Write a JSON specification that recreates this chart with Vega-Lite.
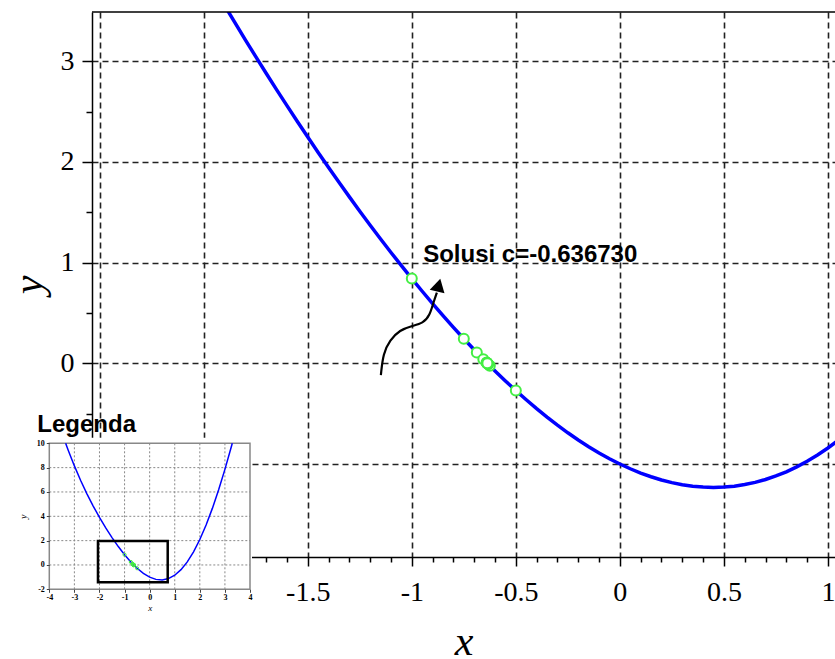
{
  "$schema": "https://vega.github.io/schema/vega-lite/v6.json",
  "autosize": {"type": "none"},
  "width": 743,
  "height": 545,
  "padding": {"left": 92, "top": 12, "right": 0, "bottom": 102},
  "background": "white",
  "config": {"view": {"stroke": null}},
  "datasets": {
    "one": [{}],
    "curve": [
      {"x": -1.9, "y": 3.5563}, {"x": -1.85, "y": 3.3838}, {"x": -1.8, "y": 3.2139}, {"x": -1.75, "y": 3.0465},
      {"x": -1.7, "y": 2.8817}, {"x": -1.65, "y": 2.7194}, {"x": -1.6, "y": 2.5596}, {"x": -1.55, "y": 2.4023},
      {"x": -1.5, "y": 2.2475}, {"x": -1.45, "y": 2.0952}, {"x": -1.4, "y": 1.9455}, {"x": -1.35, "y": 1.7982},
      {"x": -1.3, "y": 1.6536}, {"x": -1.25, "y": 1.5115}, {"x": -1.2, "y": 1.372}, {"x": -1.15, "y": 1.2353},
      {"x": -1.1, "y": 1.1012}, {"x": -1.05, "y": 0.9699}, {"x": -1.0, "y": 0.8415}, {"x": -0.95, "y": 0.7159},
      {"x": -0.9, "y": 0.5933}, {"x": -0.85, "y": 0.4738}, {"x": -0.8, "y": 0.3574}, {"x": -0.75, "y": 0.2441},
      {"x": -0.7, "y": 0.1342}, {"x": -0.65, "y": 0.0277}, {"x": -0.6, "y": -0.0754}, {"x": -0.55, "y": -0.1748},
      {"x": -0.5, "y": -0.2706}, {"x": -0.45, "y": -0.3625}, {"x": -0.4, "y": -0.4506}, {"x": -0.35, "y": -0.5346},
      {"x": -0.3, "y": -0.6145}, {"x": -0.25, "y": -0.6901}, {"x": -0.2, "y": -0.7613}, {"x": -0.15, "y": -0.8281},
      {"x": -0.1, "y": -0.8902}, {"x": -0.05, "y": -0.9475}, {"x": 0.0, "y": -1.0}, {"x": 0.05, "y": -1.0475},
      {"x": 0.1, "y": -1.0898}, {"x": 0.15, "y": -1.1269}, {"x": 0.2, "y": -1.1587}, {"x": 0.25, "y": -1.1849},
      {"x": 0.3, "y": -1.2055}, {"x": 0.35, "y": -1.2204}, {"x": 0.4, "y": -1.2294}, {"x": 0.45, "y": -1.2325},
      {"x": 0.5, "y": -1.2294}, {"x": 0.55, "y": -1.2202}, {"x": 0.6, "y": -1.2046}, {"x": 0.65, "y": -1.1827},
      {"x": 0.7, "y": -1.1542}, {"x": 0.75, "y": -1.1191}, {"x": 0.8, "y": -1.0774}, {"x": 0.85, "y": -1.0288},
      {"x": 0.9, "y": -0.9733}, {"x": 0.95, "y": -0.9109}, {"x": 1.0, "y": -0.8415}, {"x": 1.05, "y": -0.7649}
    ],
    "insetCurve": [
      {"x": -3.349, "y": 10.0}, {"x": -3.25, "y": 9.4543}, {"x": -3.0, "y": 8.1411}, {"x": -2.75, "y": 6.9442},
      {"x": -2.5, "y": 5.8485}, {"x": -2.25, "y": 4.8406}, {"x": -2.0, "y": 3.9093}, {"x": -1.75, "y": 3.0465},
      {"x": -1.5, "y": 2.2475}, {"x": -1.25, "y": 1.5115}, {"x": -1.0, "y": 0.8415}, {"x": -0.75, "y": 0.2441},
      {"x": -0.5, "y": -0.2706}, {"x": -0.25, "y": -0.6901}, {"x": 0.0, "y": -1.0}, {"x": 0.25, "y": -1.1849},
      {"x": 0.5, "y": -1.2294}, {"x": 0.75, "y": -1.1191}, {"x": 1.0, "y": -0.8415}, {"x": 1.25, "y": -0.3865},
      {"x": 1.5, "y": 0.2525}, {"x": 1.75, "y": 1.0785}, {"x": 2.0, "y": 2.0907}, {"x": 2.25, "y": 3.2844},
      {"x": 2.5, "y": 4.6515}, {"x": 2.75, "y": 6.1808}, {"x": 3.0, "y": 7.8589}, {"x": 3.25, "y": 9.6707},
      {"x": 3.294, "y": 10.0}
    ],
    "iter": [
      {"x": -1.0, "y": 0.8415}, {"x": -0.5, "y": -0.2706}, {"x": -0.75, "y": 0.2441}, {"x": -0.625, "y": -0.0243},
      {"x": -0.6875, "y": 0.1074}, {"x": -0.65625, "y": 0.0408}, {"x": -0.640625, "y": 0.008},
      {"x": -0.6328125, "y": -0.0081}, {"x": -0.63671875, "y": 0.0}, {"x": -0.638671875, "y": 0.004},
      {"x": -0.6376953125, "y": 0.002}, {"x": -0.63720703125, "y": 0.001}, {"x": -0.63673, "y": 0.0}
    ],
    "arrow": [
      {"i": 0, "x": -1.1486, "y": -0.1162}, {"i": 1, "x": -1.1376, "y": 0.0993}, {"i": 2, "x": -1.1053, "y": 0.2314},
      {"i": 3, "x": -1.0573, "y": 0.3308}, {"i": 4, "x": -1.0011, "y": 0.3705}, {"i": 5, "x": -0.9454, "y": 0.3973},
      {"i": 6, "x": -0.9132, "y": 0.4798}, {"i": 7, "x": -0.8973, "y": 0.596}, {"i": 8, "x": -0.8795, "y": 0.7033}
    ],
    "vgrid": [{"g": -3}, {"g": -2}, {"g": -1}, {"g": 0}, {"g": 1}, {"g": 2}, {"g": 3}],
    "hgrid": [{"g": 0}, {"g": 2}, {"g": 4}, {"g": 6}, {"g": 8}]
  },
  "resolve": {
    "scale": {"x": "independent", "y": "independent"},
    "axis": {"x": "independent", "y": "independent"}
  },
  "layer": [
    {
      "data": {"name": "one"},
      "mark": {"type": "point", "opacity": 0},
      "encoding": {
        "x": {
          "datum": 0, "type": "quantitative",
          "scale": {"domain": [-2.537, 1.034], "nice": false, "zero": false},
          "axis": {
            "orient": "bottom",
            "values": [-2.4, -2.3, -2.2, -2.1, -1.9, -1.8, -1.7, -1.6, -1.4, -1.3, -1.2, -1.1, -0.9, -0.8, -0.7, -0.6, -0.4, -0.3, -0.2, -0.1, 0.1, 0.2, 0.3, 0.4, 0.6, 0.7, 0.8, 0.9],
            "grid": false, "domain": false, "labels": false, "title": null,
            "tickSize": 5, "tickColor": "black", "tickWidth": 1.5, "zindex": 0
          }
        },
        "y": {
          "datum": 0, "type": "quantitative",
          "scale": {"domain": [-1.924, 3.49], "nice": false, "zero": false},
          "axis": {
            "orient": "left",
            "values": [-1.5, -0.5, 0.5, 1.5, 2.5],
            "grid": false, "domain": false, "labels": false, "title": null,
            "tickSize": 6, "tickColor": "black", "tickWidth": 1.5, "zindex": 0
          }
        }
      }
    },
    {
      "layer": [
        {
          "data": {"name": "curve"},
          "mark": {"type": "line", "color": "#0000ff", "strokeWidth": 3.5, "clip": true},
          "encoding": {
            "x": {
              "field": "x", "type": "quantitative",
              "scale": {"domain": [-2.537, 1.034], "nice": false, "zero": false},
              "axis": {
                "orient": "bottom",
                "values": [-2.5, -2, -1.5, -1, -0.5, 0, 0.5, 1],
                "grid": true,
                "gridColor": "#222222",
                "gridDash": [6, 4],
                "gridWidth": 1.6,
                "tickSize": 9,
                "tickColor": "black",
                "tickWidth": 1.5,
                "domainColor": "black",
                "domainWidth": 1.5,
                "labelExpr": "datum.value < -1.75 ? '' : toString(datum.value)",
                "labelFont": "Liberation Serif",
                "labelFontSize": 28,
                "labelColor": "black",
                "labelPadding": 12,
                "labelOverlap": false,
                "labelFlush": false,
                "title": "x",
                "titleFont": "Liberation Serif",
                "titleFontSize": 42,
                "titleFontStyle": "italic",
                "titleFontWeight": "normal",
                "titleColor": "black",
                "titlePadding": 15,
                "zindex": 0
              }
            },
            "y": {
              "field": "y", "type": "quantitative",
              "scale": {"domain": [-1.924, 3.49], "nice": false, "zero": false},
              "axis": {
                "orient": "left",
                "values": [-1, 0, 1, 2, 3],
                "grid": true,
                "gridColor": "#222222",
                "gridDash": [6, 4],
                "gridWidth": 1.6,
                "tickSize": 10,
                "tickColor": "black",
                "tickWidth": 1.5,
                "domainColor": "black",
                "domainWidth": 1.5,
                "labelExpr": "datum.value < -0.5 ? '' : toString(datum.value)",
                "labelFont": "Liberation Serif",
                "labelFontSize": 28,
                "labelColor": "black",
                "labelPadding": 8,
                "labelOverlap": false,
                "labelFlush": false,
                "title": "y",
                "titleFont": "Liberation Serif",
                "titleFontSize": 42,
                "titleFontStyle": "italic",
                "titleFontWeight": "normal",
                "titleColor": "black",
                "titlePadding": 10,
                "zindex": 0
              }
            }
          }
        },
        {
          "data": {"name": "one"},
          "mark": {"type": "rule", "color": "black", "strokeWidth": 1.5},
          "encoding": {"y": {"datum": 3.49, "type": "quantitative"}}
        },
        {
          "data": {"name": "iter"},
          "mark": {"type": "point", "shape": "circle", "filled": true, "fill": "white", "stroke": "#44ee44", "strokeWidth": 2, "size": 100, "opacity": 1},
          "encoding": {
            "x": {"field": "x", "type": "quantitative"},
            "y": {"field": "y", "type": "quantitative"}
          }
        },
        {
          "data": {"name": "arrow"},
          "mark": {"type": "line", "color": "black", "strokeWidth": 2.2, "interpolate": "basis"},
          "encoding": {
            "x": {"field": "x", "type": "quantitative"},
            "y": {"field": "y", "type": "quantitative"},
            "order": {"field": "i", "type": "quantitative"}
          }
        },
        {
          "data": {"name": "one"},
          "mark": {"type": "point", "shape": "triangle-up", "filled": true, "color": "black", "size": 230, "angle": 14, "opacity": 1},
          "encoding": {
            "x": {"datum": -0.8707, "type": "quantitative"},
            "y": {"datum": 0.7768, "type": "quantitative"}
          }
        },
        {
          "data": {"name": "one"},
          "mark": {"type": "text", "text": "Solusi c=-0.636730", "font": "Liberation Sans", "fontWeight": "bold", "fontSize": 24, "align": "left", "baseline": "alphabetic", "color": "black"},
          "encoding": {
            "x": {"datum": -0.9454, "type": "quantitative"},
            "y": {"datum": 1.009, "type": "quantitative"}
          }
        }
      ]
    },
    {
      "layer": [
        {
          "data": {"name": "one"},
          "mark": {"type": "rect", "fill": "white"},
          "encoding": {
            "x": {"datum": -6.5, "type": "quantitative"},
            "x2": {"datum": 4.08},
            "y": {"datum": -3.7, "type": "quantitative"},
            "y2": {"datum": 10.45}
          }
        },
        {
          "data": {"name": "vgrid"},
          "mark": {"type": "rule", "color": "#888888", "strokeWidth": 1, "strokeDash": [2, 2]},
          "encoding": {
            "x": {"field": "g", "type": "quantitative"},
            "y": {"datum": -2, "type": "quantitative"},
            "y2": {"datum": 10}
          }
        },
        {
          "data": {"name": "hgrid"},
          "mark": {"type": "rule", "color": "#888888", "strokeWidth": 1, "strokeDash": [2, 2]},
          "encoding": {
            "y": {"field": "g", "type": "quantitative"},
            "x": {"datum": -4, "type": "quantitative"},
            "x2": {"datum": 4}
          }
        },
        {
          "data": {"name": "one"},
          "mark": {"type": "rect", "fill": null, "stroke": "#888888", "strokeWidth": 1.5},
          "encoding": {
            "x": {"datum": -4, "type": "quantitative"},
            "x2": {"datum": 4},
            "y": {"datum": -2, "type": "quantitative"},
            "y2": {"datum": 10}
          }
        },
        {
          "data": {"name": "insetCurve"},
          "mark": {"type": "line", "color": "#0000ff", "strokeWidth": 1.5},
          "encoding": {
            "x": {
              "field": "x", "type": "quantitative",
              "scale": {"domain": [-4, 4], "range": [-42.7, 158], "nice": false, "zero": false},
              "axis": {
                "orient": "bottom",
                "offset": 32.3,
                "values": [-4, -3, -2, -1, 0, 1, 2, 3, 4],
                "grid": false,
                "domain": false,
                "tickSize": 3,
                "tickColor": "#444444",
                "labelExpr": "toString(datum.value)",
                "labelFont": "Liberation Serif",
                "labelFontSize": 8,
                "labelFontWeight": "bold",
                "labelColor": "black",
                "labelPadding": 1,
                "labelOverlap": false,
                "labelFlush": false,
                "title": "x",
                "titleFont": "Liberation Serif",
                "titleFontSize": 9,
                "titleFontStyle": "italic",
                "titleFontWeight": "normal",
                "titleColor": "black",
                "titlePadding": 2,
                "zindex": 1
              }
            },
            "y": {
              "field": "y", "type": "quantitative",
              "scale": {"domain": [-2, 10], "range": [577.3, 431.3], "nice": false, "zero": false},
              "axis": {
                "orient": "left",
                "offset": 42.7,
                "values": [-2, 0, 2, 4, 6, 8, 10],
                "grid": false,
                "domain": false,
                "tickSize": 3,
                "tickColor": "#444444",
                "labelExpr": "toString(datum.value)",
                "labelFont": "Liberation Serif",
                "labelFontSize": 8,
                "labelFontWeight": "bold",
                "labelColor": "black",
                "labelPadding": 2,
                "labelOverlap": false,
                "labelFlush": false,
                "title": "y",
                "titleFont": "Liberation Serif",
                "titleFontSize": 10,
                "titleFontStyle": "italic",
                "titleFontWeight": "normal",
                "titleColor": "black",
                "titlePadding": 8,
                "zindex": 1
              }
            }
          }
        },
        {
          "data": {"name": "one"},
          "mark": {"type": "rect", "fill": null, "stroke": "black", "strokeWidth": 2.5},
          "encoding": {
            "x": {"datum": -2.06, "type": "quantitative"},
            "x2": {"datum": 0.72},
            "y": {"datum": -1.42, "type": "quantitative"},
            "y2": {"datum": 1.97}
          }
        },
        {
          "data": {"name": "iter"},
          "mark": {"type": "point", "shape": "circle", "filled": false, "color": "#44ee44", "strokeWidth": 1, "size": 10, "opacity": 1},
          "encoding": {
            "x": {"field": "x", "type": "quantitative"},
            "y": {"field": "y", "type": "quantitative"}
          }
        },
        {
          "data": {"name": "one"},
          "mark": {"type": "text", "text": "Legenda", "font": "Liberation Sans", "fontWeight": "bold", "fontSize": 24, "align": "left", "baseline": "alphabetic", "color": "black"},
          "encoding": {
            "x": {"datum": -4.478, "type": "quantitative"},
            "y": {"datum": 10.953, "type": "quantitative"}
          }
        }
      ]
    }
  ]
}
